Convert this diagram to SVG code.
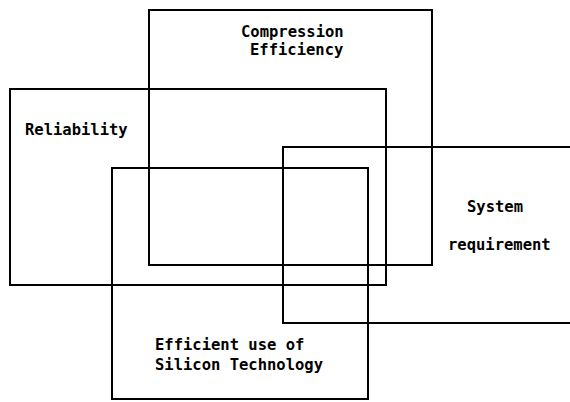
<svg xmlns="http://www.w3.org/2000/svg" width="570" height="402" viewBox="0 0 570 402">
<style>
.box{fill:none;stroke:#000;stroke-width:2}
.lbl{font-family:"DejaVu Sans Mono","Liberation Mono",monospace;font-size:15.5px;font-weight:bold;fill:#000}
</style>
<rect width="570" height="402" fill="#fff"/>
<g id="compression">
<rect class="box" x="149" y="10" width="283" height="255"/>
<text class="lbl" x="241" y="37">Compression</text>
<text class="lbl" x="250" y="55">Efficiency</text>
</g>
<g id="reliability">
<rect class="box" x="10" y="89" width="376" height="196"/>
<text class="lbl" x="25" y="135">Reliability</text>
</g>
<g id="system">
<rect class="box" x="283" y="147" width="300" height="176"/>
<text class="lbl" x="467" y="212">System</text>
<text class="lbl" x="448" y="250">requirement</text>
</g>
<g id="silicon">
<rect class="box" x="112" y="168" width="256" height="231"/>
<text class="lbl" x="155" y="350">Efficient use of</text>
<text class="lbl" x="155" y="370">Silicon Technology</text>
</g>
</svg>
